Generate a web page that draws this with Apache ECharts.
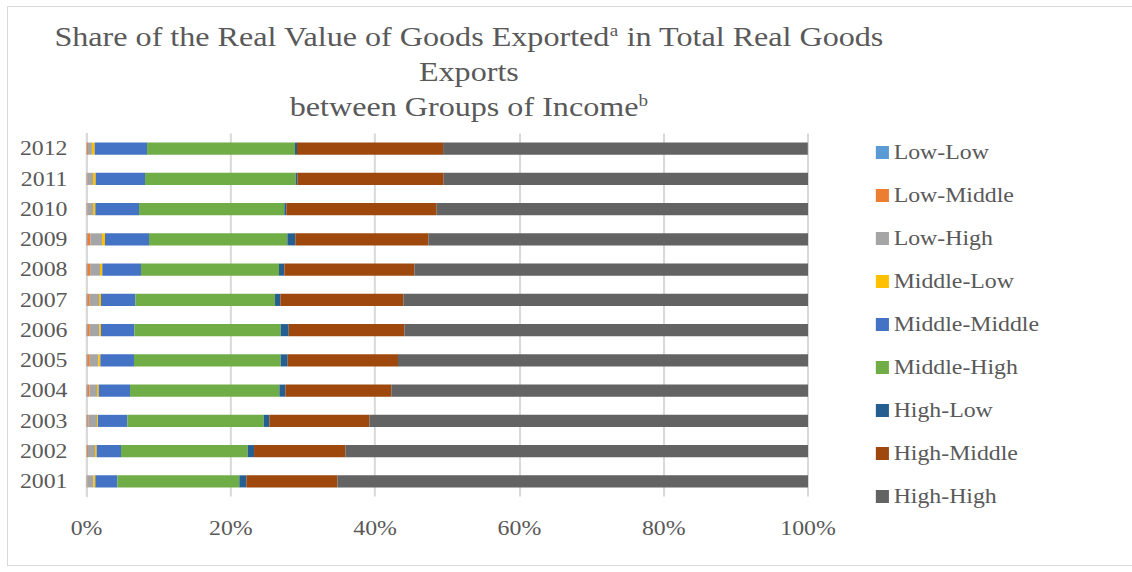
<!DOCTYPE html>
<html>
<head>
<meta charset="utf-8">
<script src="https://cdn.jsdelivr.net/npm/echarts@6/dist/echarts.min.js"></script>
<style>
html,body{margin:0;padding:0;background:#fff;overflow:hidden;}
#frame{position:absolute;left:7px;top:6px;width:1140px;height:560px;border:1px solid #d9d9d9;box-sizing:border-box;}
#chart{width:951px;height:572px;position:absolute;left:0;top:0;transform:scaleX(1.19);transform-origin:0 0;}
</style>
</head>
<body>
<div id="frame"></div>
<div id="chart"></div>
<script>
const years = ['2001','2002','2003','2004','2005','2006','2007','2008','2009','2010','2011','2012'];
const seriesNames = ['Low-Low','Low-Middle','Low-High','Middle-Low','Middle-Middle','Middle-High','High-Low','High-Middle','High-High'];
const xTicks = ['0%','20%','40%','60%','80%','100%'];

const lowLow       = [0.05,0.05,0.10,0.10,0.10,0.10,0.10,0.10,0.10,0.05,0.05,0.05];
const lowMiddle    = [0.10,0.15,0.20,0.30,0.35,0.35,0.35,0.40,0.43,0.10,0.10,0.15];
const lowHigh      = [0.80,0.98,1.16,1.06,1.19,1.33,1.28,1.37,1.62,0.75,0.75,0.55];
const middleLow    = [0.27,0.23,0.13,0.23,0.28,0.23,0.28,0.32,0.41,0.32,0.37,0.38];
const middleMiddle = [3.05,3.37,4.07,4.34,4.66,4.62,4.76,5.36,6.10,6.06,6.84,7.26];
const middleHigh   = [16.91,17.56,18.90,20.70,20.33,20.28,19.36,19.13,19.18,20.14,20.88,20.50];
const highLow      = [0.97,0.88,0.78,0.83,0.97,1.11,0.74,0.74,1.10,0.28,0.23,0.28];
const highMiddle   = [12.62,12.65,13.86,14.69,15.29,16.03,17.04,18.02,18.44,20.83,20.28,20.25];
const highHigh     = [65.23,64.13,60.80,57.75,56.83,55.95,56.09,54.56,52.62,51.47,50.50,50.55];

const values = [lowLow,lowMiddle,lowHigh,middleLow,middleMiddle,middleHigh,highLow,highMiddle,highHigh];
const colors = ['#5B9BD5','#ED7D31','#A5A5A5','#FFC000','#4472C4','#70AD47','#255E91','#9E480E','#636363'];
const font = '"Liberation Serif","Times New Roman",serif';

const chart = echarts.init(document.getElementById('chart'), null, {renderer:'svg'});
chart.setOption({
  animation:false,
  color: colors,
  title:{
    text:'Share of the Real Value of Goods Exported{sup|a} in Total Real Goods\nExports\nbetween Groups of Income{sup|b}',
    left:389, top:14, textAlign:'center',
    textStyle:{
      fontFamily:font, fontSize:27, fontWeight:'normal', color:'#595959', lineHeight:35,
      rich:{sup:{fontFamily:font, fontSize:16, color:'#595959', padding:[0,0,12,0], lineHeight:16}}
    }
  },
  grid:{left:72.7, right:272, top:133.5, bottom:75.5, containLabel:false},
  legend:{
    orient:'vertical', left:731, top:137.5,
    itemWidth:11, itemHeight:13, itemGap:23,
    icon:'rect',
    textStyle:{fontFamily:font, fontSize:20, color:'#595959', lineHeight:20, padding:[0,0,0,-1]},
    data: seriesNames
  },
  xAxis:{
    type:'value', min:0, max:100, interval:20,
    axisLine:{show:false}, axisTick:{show:false},
    splitLine:{show:true, lineStyle:{color:'#d9d9d9', width:1.7}},
    axisLabel:{fontFamily:font, fontSize:20, color:'#595959', margin:22,
      formatter:function(v){return xTicks[Math.round(v/20)];}}
  },
  yAxis:{
    type:'category', data:years,
    axisLine:{show:true, lineStyle:{color:'#d9d9d9', width:1.7}},
    axisTick:{show:false},
    axisLabel:{fontFamily:font, fontSize:20, color:'#595959', margin:16}
  },
  series: seriesNames.map(function(n,i){
    return {name:n, type:'bar', stack:'total', barCategoryGap:'60%', data:values[i],
      itemStyle:{color:colors[i]}};
  })
});
</script>
</body>
</html>
